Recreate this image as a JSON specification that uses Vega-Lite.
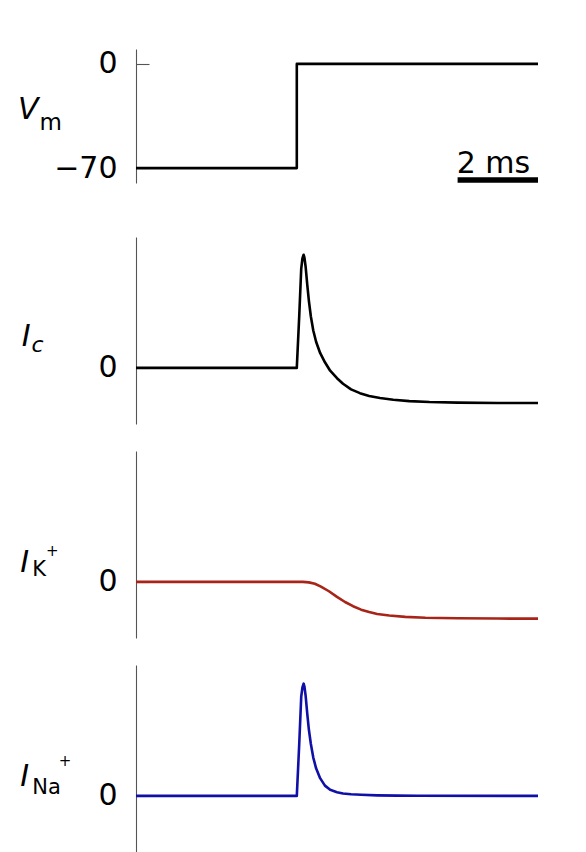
{
  "$schema": "https://vega.github.io/schema/vega-lite/v6.json",
  "padding": {"left": 18, "top": 48, "right": 5, "bottom": 0},
  "background": "white",
  "config": {
    "view": {"stroke": null},
    "font": "DejaVu Sans",
    "line": {"strokeJoin": "round", "strokeCap": "butt"},
    "axis": {
      "domainColor": "#555555",
      "domainWidth": 1.1,
      "tickColor": "#555555",
      "tickWidth": 1.1,
      "tickSize": -13,
      "labelFont": "DejaVu Sans",
      "labelFontSize": 30,
      "labelColor": "black",
      "labelPadding": 32,
      "grid": false,
      "title": null
    }
  },
  "datasets": {
    "traces": [
      {"panel": "Vm", "i": 0, "t": 0, "v": -70},
      {"panel": "Vm", "i": 1, "t": 4, "v": -70},
      {"panel": "Vm", "i": 2, "t": 4, "v": 0},
      {"panel": "Vm", "i": 3, "t": 10, "v": 0},

      {"panel": "Ic", "i": 0, "t": 0, "v": 0},
      {"panel": "Ic", "i": 1, "t": 4.0, "v": 0},
      {"panel": "Ic", "i": 2, "t": 4.06, "v": 0.55},
      {"panel": "Ic", "i": 3, "t": 4.11, "v": 1.06},
      {"panel": "Ic", "i": 4, "t": 4.14, "v": 1.17},
      {"panel": "Ic", "i": 5, "t": 4.17, "v": 1.21},
      {"panel": "Ic", "i": 6, "t": 4.19, "v": 1.18},
      {"panel": "Ic", "i": 7, "t": 4.22, "v": 1.08},
      {"panel": "Ic", "i": 8, "t": 4.26, "v": 0.89},
      {"panel": "Ic", "i": 9, "t": 4.30, "v": 0.72},
      {"panel": "Ic", "i": 10, "t": 4.35, "v": 0.55},
      {"panel": "Ic", "i": 11, "t": 4.41, "v": 0.40},
      {"panel": "Ic", "i": 12, "t": 4.48, "v": 0.28},
      {"panel": "Ic", "i": 13, "t": 4.58, "v": 0.16},
      {"panel": "Ic", "i": 14, "t": 4.70, "v": 0.06},
      {"panel": "Ic", "i": 15, "t": 4.83, "v": -0.03},
      {"panel": "Ic", "i": 16, "t": 5.0, "v": -0.11},
      {"panel": "Ic", "i": 17, "t": 5.15, "v": -0.17},
      {"panel": "Ic", "i": 18, "t": 5.35, "v": -0.23},
      {"panel": "Ic", "i": 19, "t": 5.57, "v": -0.27},
      {"panel": "Ic", "i": 20, "t": 5.8, "v": -0.30},
      {"panel": "Ic", "i": 21, "t": 6.07, "v": -0.322},
      {"panel": "Ic", "i": 22, "t": 6.4, "v": -0.34},
      {"panel": "Ic", "i": 23, "t": 6.8, "v": -0.355},
      {"panel": "Ic", "i": 24, "t": 7.3, "v": -0.365},
      {"panel": "Ic", "i": 25, "t": 8.0, "v": -0.371},
      {"panel": "Ic", "i": 26, "t": 9.0, "v": -0.375},
      {"panel": "Ic", "i": 27, "t": 10.0, "v": -0.376},

      {"panel": "IK", "i": 0, "t": 0, "v": 0},
      {"panel": "IK", "i": 1, "t": 4.15, "v": 0},
      {"panel": "IK", "i": 2, "t": 4.3, "v": -0.005},
      {"panel": "IK", "i": 3, "t": 4.45, "v": -0.02},
      {"panel": "IK", "i": 4, "t": 4.6, "v": -0.05},
      {"panel": "IK", "i": 5, "t": 4.8, "v": -0.10},
      {"panel": "IK", "i": 6, "t": 5.0, "v": -0.16},
      {"panel": "IK", "i": 7, "t": 5.2, "v": -0.215},
      {"panel": "IK", "i": 8, "t": 5.4, "v": -0.26},
      {"panel": "IK", "i": 9, "t": 5.6, "v": -0.297},
      {"panel": "IK", "i": 10, "t": 5.8, "v": -0.323},
      {"panel": "IK", "i": 11, "t": 6.0, "v": -0.343},
      {"panel": "IK", "i": 12, "t": 6.3, "v": -0.36},
      {"panel": "IK", "i": 13, "t": 6.7, "v": -0.374},
      {"panel": "IK", "i": 14, "t": 7.2, "v": -0.383},
      {"panel": "IK", "i": 15, "t": 8.0, "v": -0.389},
      {"panel": "IK", "i": 16, "t": 9.0, "v": -0.392},
      {"panel": "IK", "i": 17, "t": 10.0, "v": -0.393},

      {"panel": "INa", "i": 0, "t": 0, "v": 0},
      {"panel": "INa", "i": 1, "t": 4.0, "v": 0},
      {"panel": "INa", "i": 2, "t": 4.06, "v": 0.55},
      {"panel": "INa", "i": 3, "t": 4.11, "v": 1.06},
      {"panel": "INa", "i": 4, "t": 4.14, "v": 1.16},
      {"panel": "INa", "i": 5, "t": 4.17, "v": 1.20},
      {"panel": "INa", "i": 6, "t": 4.19, "v": 1.17},
      {"panel": "INa", "i": 7, "t": 4.22, "v": 1.07},
      {"panel": "INa", "i": 8, "t": 4.26, "v": 0.88},
      {"panel": "INa", "i": 9, "t": 4.30, "v": 0.71},
      {"panel": "INa", "i": 10, "t": 4.35, "v": 0.555},
      {"panel": "INa", "i": 11, "t": 4.41, "v": 0.41},
      {"panel": "INa", "i": 12, "t": 4.48, "v": 0.295},
      {"panel": "INa", "i": 13, "t": 4.58, "v": 0.19},
      {"panel": "INa", "i": 14, "t": 4.70, "v": 0.11},
      {"panel": "INa", "i": 15, "t": 4.83, "v": 0.065},
      {"panel": "INa", "i": 16, "t": 5.0, "v": 0.04},
      {"panel": "INa", "i": 17, "t": 5.15, "v": 0.025},
      {"panel": "INa", "i": 18, "t": 5.35, "v": 0.018},
      {"panel": "INa", "i": 19, "t": 5.6, "v": 0.012},
      {"panel": "INa", "i": 20, "t": 6.0, "v": 0.006},
      {"panel": "INa", "i": 21, "t": 6.5, "v": 0.003},
      {"panel": "INa", "i": 22, "t": 7.0, "v": 0.001},
      {"panel": "INa", "i": 23, "t": 10.0, "v": 0}
    ],
    "scalebar": [
      {"t0": 8, "t1": 10, "v": -78, "tm": 8.89, "vt": -73.3, "label": "2 ms"}
    ]
  },
  "spacing": 54,
  "bounds": "flush",
  "vconcat": [
    {
      "width": 402,
      "height": 134,
      "data": {"values": [{}]},
      "layer": [
        {
          "data": {"name": "traces"},
          "transform": [{"filter": "datum.panel === 'Vm'"}],
          "mark": {"type": "line", "color": "black", "strokeWidth": 2.6, "clip": false},
          "encoding": {
            "x": {"field": "t", "type": "quantitative", "scale": {"domain": [0, 10]}, "axis": null},
            "y": {"field": "v", "type": "quantitative", "scale": {"domain": [-80, 10]}, "axis": {"values": [0, -70], "format": "d"}},
            "order": {"field": "i"}
          }
        },
        {
          "data": {"name": "scalebar"},
          "mark": {"type": "rule", "color": "black", "strokeWidth": 5.5, "strokeCap": "butt"},
          "encoding": {
            "x": {"field": "t0", "type": "quantitative"},
            "x2": {"field": "t1"},
            "y": {"field": "v", "type": "quantitative"}
          }
        },
        {
          "data": {"name": "scalebar"},
          "mark": {"type": "text", "fontSize": 30, "align": "center", "baseline": "alphabetic", "color": "black"},
          "encoding": {
            "x": {"field": "tm", "type": "quantitative"},
            "y": {"field": "vt", "type": "quantitative"},
            "text": {"field": "label"}
          }
        },
        {
          "mark": {"type": "text", "text": "V", "fontStyle": "italic", "fontSize": 30, "align": "left", "baseline": "alphabetic", "color": "black"},
          "encoding": {"x": {"datum": -2.935, "type": "quantitative"}, "y": {"datum": -37.0, "type": "quantitative"}}
        },
        {
          "mark": {"type": "text", "text": "m", "fontSize": 23, "align": "left", "baseline": "alphabetic", "color": "black"},
          "encoding": {"x": {"datum": -2.4, "type": "quantitative"}, "y": {"datum": -44.4, "type": "quantitative"}}
        }
      ]
    },
    {
      "spacing": 27,
      "bounds": "flush",
      "vconcat": [
        {
          "width": 402,
          "height": 187,
          "data": {"values": [{}]},
          "layer": [
            {
              "data": {"name": "traces"},
              "transform": [{"filter": "datum.panel === 'Ic'"}],
              "mark": {"type": "line", "color": "black", "strokeWidth": 2.6, "clip": false},
              "encoding": {
                "x": {"field": "t", "type": "quantitative", "scale": {"domain": [0, 10]}, "axis": null},
                "y": {"field": "v", "type": "quantitative", "scale": {"domain": [-0.54, 1.33]}, "axis": {"values": [0], "format": "d"}},
                "order": {"field": "i"}
              }
            },
            {
              "mark": {"type": "text", "text": "I", "fontStyle": "italic", "fontSize": 30, "align": "left", "baseline": "alphabetic", "color": "black"},
              "encoding": {"x": {"datum": -2.84, "type": "quantitative"}, "y": {"datum": 0.23, "type": "quantitative"}}
            },
            {
              "mark": {"type": "text", "text": "c", "fontStyle": "italic", "fontSize": 22, "align": "left", "baseline": "alphabetic", "color": "black"},
              "encoding": {"x": {"datum": -2.6, "type": "quantitative"}, "y": {"datum": 0.17, "type": "quantitative"}}
            }
          ]
        },
        {
          "width": 402,
          "height": 187,
          "data": {"values": [{}]},
          "layer": [
            {
              "data": {"name": "traces"},
              "transform": [{"filter": "datum.panel === 'IK'"}],
              "mark": {"type": "line", "color": "#a82418", "strokeWidth": 2.6, "clip": false},
              "encoding": {
                "x": {"field": "t", "type": "quantitative", "scale": {"domain": [0, 10]}, "axis": null},
                "y": {"field": "v", "type": "quantitative", "scale": {"domain": [-0.54, 1.33]}, "axis": {"values": [0], "format": "d"}},
                "order": {"field": "i"}
              }
            },
            {
              "mark": {"type": "text", "text": "I", "fontStyle": "italic", "fontSize": 30, "align": "left", "baseline": "alphabetic", "color": "black"},
              "encoding": {"x": {"datum": -2.88, "type": "quantitative"}, "y": {"datum": 0.11, "type": "quantitative"}}
            },
            {
              "mark": {"type": "text", "text": "K", "fontSize": 21, "align": "left", "baseline": "alphabetic", "color": "black"},
              "encoding": {"x": {"datum": -2.58, "type": "quantitative"}, "y": {"datum": 0.06, "type": "quantitative"}}
            },
            {
              "mark": {"type": "text", "text": "+", "fontSize": 15, "align": "left", "baseline": "alphabetic", "color": "black"},
              "encoding": {"x": {"datum": -2.24, "type": "quantitative"}, "y": {"datum": 0.28, "type": "quantitative"}}
            }
          ]
        },
        {
          "width": 402,
          "height": 187,
          "data": {"values": [{}]},
          "layer": [
            {
              "data": {"name": "traces"},
              "transform": [{"filter": "datum.panel === 'INa'"}],
              "mark": {"type": "line", "color": "#1010a8", "strokeWidth": 2.6, "clip": false},
              "encoding": {
                "x": {"field": "t", "type": "quantitative", "scale": {"domain": [0, 10]}, "axis": null},
                "y": {"field": "v", "type": "quantitative", "scale": {"domain": [-0.54, 1.33]}, "axis": {"values": [0], "format": "d"}},
                "order": {"field": "i"}
              }
            },
            {
              "mark": {"type": "text", "text": "I", "fontStyle": "italic", "fontSize": 30, "align": "left", "baseline": "alphabetic", "color": "black"},
              "encoding": {"x": {"datum": -2.88, "type": "quantitative"}, "y": {"datum": 0.11, "type": "quantitative"}}
            },
            {
              "mark": {"type": "text", "text": "Na", "fontSize": 21, "align": "left", "baseline": "alphabetic", "color": "black"},
              "encoding": {"x": {"datum": -2.58, "type": "quantitative"}, "y": {"datum": 0.02, "type": "quantitative"}}
            },
            {
              "mark": {"type": "text", "text": "+", "fontSize": 15, "align": "left", "baseline": "alphabetic", "color": "black"},
              "encoding": {"x": {"datum": -1.92, "type": "quantitative"}, "y": {"datum": 0.32, "type": "quantitative"}}
            }
          ]
        }
      ]
    }
  ]
}
